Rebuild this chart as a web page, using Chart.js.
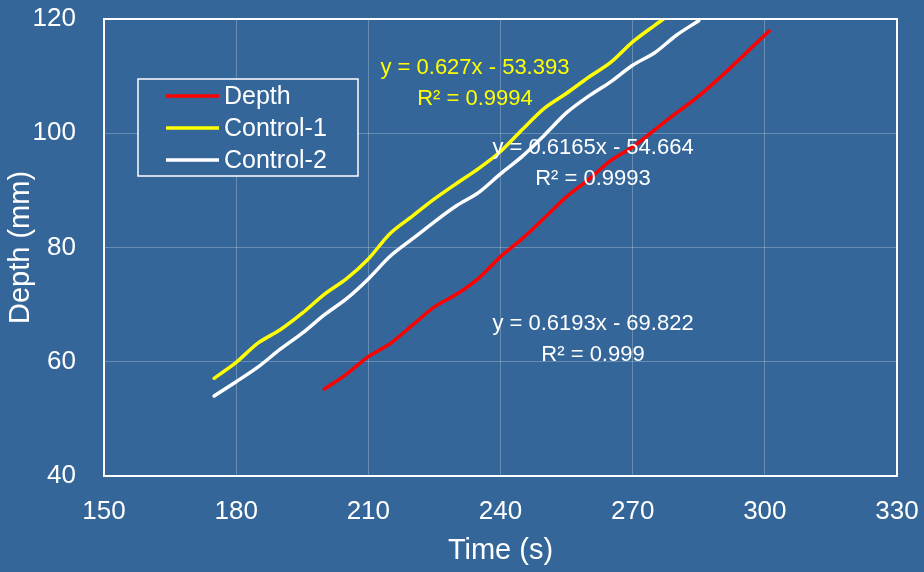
<!DOCTYPE html>
<html>
<head>
<meta charset="utf-8">
<script src="https://cdn.jsdelivr.net/npm/chart.js@4"></script>
<style>
  html, body { margin: 0; padding: 0; background: #346699; }
  #wrap { width: 924px; height: 572px; }
</style>
</head>
<body>
<div id="wrap"><canvas id="myChart"></canvas></div>
<script>
// Data
const depthTime = [200, 205, 210, 215, 220, 225, 230, 235, 240, 245, 250, 255, 260, 265, 270, 275, 280, 285, 290, 295, 300, 301];
const depthValues = [55.2, 57.8, 60.9, 63.2, 66.4, 69.6, 71.8, 74.6, 78.4, 81.6, 85.2, 88.9, 91.9, 95.2, 97.6, 100.6, 103.6, 106.5, 109.9, 113.5, 117.2, 117.9];

const control1Time = [175, 180, 185, 190, 195, 200, 205, 210, 215, 220, 225, 230, 235, 240, 245, 250, 255, 260, 265, 270, 275, 277];
const control1Values = [57.1, 59.9, 63.3, 65.6, 68.5, 71.8, 74.5, 78.0, 82.5, 85.5, 88.5, 91.2, 93.8, 96.8, 100.7, 104.4, 107.0, 109.8, 112.4, 116.0, 118.9, 120.0];

const control2Time = [175, 180, 185, 190, 195, 200, 205, 210, 215, 220, 225, 230, 235, 240, 245, 250, 255, 260, 265, 270, 275, 280, 285];
const control2Values = [54.0, 56.5, 59.1, 62.2, 65.0, 68.2, 71.0, 74.5, 78.5, 81.5, 84.5, 87.3, 89.6, 92.9, 96.0, 99.7, 103.6, 106.5, 109.0, 111.9, 114.1, 117.2, 119.7];

const seriesNames = ['Depth', 'Control-1', 'Control-2'];
const seriesColors = ['#FF0000', '#FFFF00', '#FFFFFF'];

// Trendline labels (text, colour, anchor in data units)
const trendLabels = [
    { lines: ['y = 0.627x - 53.393', 'R\u00B2 = 0.9994'], color: '#FFFF00', x: 234.2, y: 111.5 },
    { lines: ['y = 0.6165x - 54.664', 'R\u00B2 = 0.9993'], color: '#FFFFFF', x: 261, y: 97.5 },
    { lines: ['y = 0.6193x - 69.822', 'R\u00B2 = 0.999'], color: '#FFFFFF', x: 261, y: 66.6 }
];

const FONT = "'Liberation Sans', Arial, sans-serif";

function toPoints(xs, ys) {
    return xs.map((x, i) => ({ x: x, y: ys[i] }));
}

// Draws white frame, trendline text and the legend box
const decorPlugin = {
    id: 'decor',
    afterDraw(chart) {
        const ctx = chart.ctx;
        const a = chart.chartArea;
        const xs = chart.scales.x, ys = chart.scales.y;
        ctx.save();
        ctx.strokeStyle = '#FFFFFF';
        ctx.lineWidth = 2;
        ctx.strokeRect(a.left, a.top, a.right - a.left, a.bottom - a.top);

        // trendline equations
        ctx.font = '22px ' + FONT;
        ctx.textAlign = 'center';
        ctx.textBaseline = 'middle';
        trendLabels.forEach(t => {
            ctx.fillStyle = t.color;
            const px = xs.getPixelForValue(t.x);
            const py = ys.getPixelForValue(t.y);
            t.lines.forEach((line, i) => ctx.fillText(line, px, py + i * 31));
        });

        // legend
        const lx = 138, ly = 79, lw = 220, lh = 97;
        ctx.fillStyle = '#346699';
        ctx.fillRect(lx, ly, lw, lh);
        ctx.strokeStyle = '#FFFFFF';
        ctx.lineWidth = 1.5;
        ctx.strokeRect(lx, ly, lw, lh);
        ctx.font = '25px ' + FONT;
        ctx.textAlign = 'left';
        chart.data.datasets.forEach((ds, i) => {
            const yy = ly + 17 + i * 32;
            ctx.strokeStyle = ds.borderColor;
            ctx.lineWidth = 3.5;
            ctx.beginPath();
            ctx.moveTo(166, yy);
            ctx.lineTo(219, yy);
            ctx.stroke();
            ctx.fillStyle = '#FFFFFF';
            ctx.fillText(ds.label, 224, yy + 1);
        });
        ctx.restore();
    }
};

const ctx = document.getElementById('myChart');
const myChart = new Chart(ctx, {
    type: 'scatter',
    data: {
        datasets: [
            { label: seriesNames[0], data: toPoints(depthTime, depthValues) },
            { label: seriesNames[1], data: toPoints(control1Time, control1Values) },
            { label: seriesNames[2], data: toPoints(control2Time, control2Values) }
        ].map((ds, i) => Object.assign(ds, {
            showLine: true,
            borderColor: seriesColors[i],
            backgroundColor: seriesColors[i],
            borderWidth: 3.5,
            pointRadius: 0,
            tension: 0.3,
            borderCapStyle: 'round'
        }))
    },
    options: {
        responsive: true,
        maintainAspectRatio: false,
        animation: false,
        layout: { padding: { top: 19, right: 27, left: 0, bottom: 0 } },
        plugins: {
            legend: { display: false },
            tooltip: { enabled: false }
        },
        scales: {
            x: {
                type: 'linear',
                min: 150,
                max: 330,
                afterFit(scale) {
                    scale.height = 96;
                    scale.paddingLeft = 0; scale.paddingRight = 0;
                    scale.paddingTop = 0; scale.paddingBottom = 0;
                },
                ticks: { stepSize: 30, color: '#FFFFFF', padding: 20, font: { family: FONT, size: 26 } },
                grid: { color: 'rgba(255,255,255,0.25)', lineWidth: 1, drawTicks: false },
                border: { display: false },
                title: { display: true, text: 'Time (s)', color: '#FFFFFF', padding: { top: 0, bottom: 4 }, font: { family: FONT, size: 29 } }
            },
            y: {
                min: 40,
                max: 120,
                afterFit(scale) {
                    scale.width = 104;
                    scale.paddingLeft = 0; scale.paddingRight = 0;
                    scale.paddingTop = 0; scale.paddingBottom = 0;
                },
                ticks: { stepSize: 20, color: '#FFFFFF', padding: 28, font: { family: FONT, size: 26 } },
                grid: { color: 'rgba(255,255,255,0.25)', lineWidth: 1, drawTicks: false },
                border: { display: false },
                title: { display: true, text: 'Depth (mm)', color: '#FFFFFF', padding: { bottom: 0 }, font: { family: FONT, size: 29 } }
            }
        }
    },
    plugins: [decorPlugin]
});
</script>
</body>
</html>
